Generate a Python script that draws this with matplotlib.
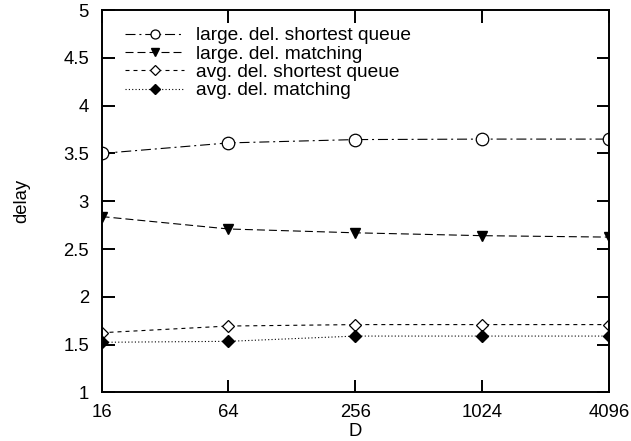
import matplotlib
matplotlib.use("Agg")
import matplotlib.pyplot as plt
from matplotlib.ticker import FixedLocator, FixedFormatter, NullLocator

plt.rcParams['font.family'] = ['Liberation Sans', 'DejaVu Sans']

D = [16, 64, 256, 1024, 4096]
xlabels = ['16', '64', '256', '1024', '4096']
large_sq = [3.50, 3.61, 3.645, 3.65, 3.65]
large_match = [2.84, 2.71, 2.67, 2.64, 2.625]
avg_sq = [1.625, 1.695, 1.71, 1.71, 1.71]
avg_match = [1.525, 1.535, 1.59, 1.59, 1.59]
labels = ['large. del. shortest queue', 'large. del. matching',
          'avg. del. shortest queue', 'avg. del. matching']

fig = plt.figure(figsize=(6.31, 4.41), dpi=100)
ax = fig.add_axes([0.1609, 0.110, 0.8043, 0.8673])

lw = 0.8
fs = 13.3
ax.plot(D, large_sq, color='black', lw=lw, linestyle=(0, (9, 3.5, 1.8, 3.5)),
        marker='o', markerfacecolor='white', markeredgecolor='black', markersize=9, mew=0.9,
        label=labels[0])
ax.plot(D, large_match, color='black', lw=lw, linestyle=(0, (7.2, 3.6)),
        marker='v', markerfacecolor='black', markeredgecolor='black', markersize=7.5,
        label=labels[1])
ax.plot(D, avg_sq, color='black', lw=lw, linestyle=(0, (3.6, 3.6)),
        marker='D', markerfacecolor='white', markeredgecolor='black', markersize=6.5, mew=0.9,
        label=labels[2])
ax.plot(D, avg_match, color='black', lw=lw, linestyle=(0, (1, 2)),
        marker='D', markerfacecolor='black', markeredgecolor='black', markersize=6.5,
        label=labels[3])

ax.set_xscale('log', base=2)
ax.set_xlim(16, 4096)
ax.set_ylim(1, 5)
ax.xaxis.set_major_locator(FixedLocator(D))
ax.xaxis.set_major_formatter(FixedFormatter(xlabels))
ax.xaxis.set_minor_locator(NullLocator())
ax.set_yticks([1, 1.5, 2, 2.5, 3, 3.5, 4, 4.5, 5])
ax.set_yticklabels(['1', '1.5', '2', '2.5', '3', '3.5', '4', '4.5', '5'])
ax.tick_params(direction='in', top=True, right=True, length=9, width=1.4, labelsize=fs)
ax.tick_params(axis='x', pad=8)
ax.tick_params(axis='y', pad=9)
for s in ax.spines.values():
    s.set_linewidth(1.4)

ax.set_xlabel('D', fontsize=fs, labelpad=1.6)
ax.set_ylabel('delay', fontsize=fs, labelpad=23.5)

ax.legend(loc='upper left', frameon=False, fontsize=13.8, handlelength=3.1,
          handletextpad=0.6, labelspacing=0.05, borderaxespad=0.0, borderpad=0.0,
          markerscale=0.72, bbox_to_anchor=(0.046, 0.956))

fig.savefig('out.png', dpi=100)
